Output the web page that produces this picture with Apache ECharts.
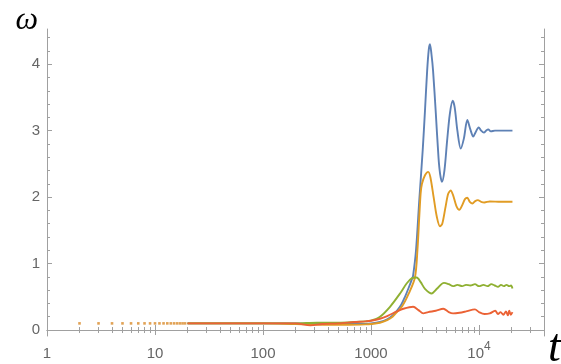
<!DOCTYPE html>
<html><head><meta charset="utf-8">
<script src="https://cdn.jsdelivr.net/npm/echarts@6/dist/echarts.min.js"></script>
<style>html,body{margin:0;padding:0;background:#fff}#c{width:561px;height:364px}</style>
</head><body><div id="c"></div><script>
// ---- data (t, omega) ----
const tDots = [2,3,4,5,6,7,8,9,10,11,12,13,14,15,16,17,18,19];
const vDots = [0.1,0.1,0.1,0.1,0.1,0.1,0.1,0.1,0.1,0.1,0.1,0.1,0.1,0.1,0.1,0.1,0.1,0.1];

const tBlue = [20,100,200,398,631,794,1000,1211,1413,1585,1738,1905,2065,2239,2399,2455,2612,2799,3013,3162,3311,3428,3516,3631,3758,3981,4217,4365,4539,4786,5070,5370,5702,5957,6310,6776,7244,7798,8318,8851,9333,9931,10471,11117,11614,12190,12882,14060,16000,20417];
const vBlue = [0.1,0.1,0.1,0.09,0.09,0.09,0.10,0.12,0.16,0.22,0.29,0.38,0.5,0.64,0.77,0.82,1.2,1.95,2.71,3.3,3.9,4.22,4.30,4.15,3.9,3.27,2.6,2.35,2.23,2.4,2.85,3.25,3.45,3.35,3.0,2.73,2.88,3.16,3.02,2.91,2.98,3.05,3.0,2.97,3.0,3.02,2.99,3.0,3.0,3.0];

const tOrange = [20,100,200,398,631,891,1000,1211,1413,1585,1738,1950,2239,2553,2692,2799,2884,2965,3162,3388,3548,3802,4074,4355,4571,4898,5188,5470,5754,6166,6577,6998,7413,7798,8222,8710,9226,9772,10471,11220,12589,15849,20417];
const vOrange = [0.1,0.1,0.09,0.08,0.08,0.085,0.09,0.11,0.15,0.2,0.27,0.36,0.55,0.79,1.2,1.7,2.06,2.2,2.33,2.38,2.3,2.0,1.7,1.56,1.6,1.85,2.05,2.10,2.03,1.87,1.81,1.88,1.97,1.99,1.93,1.905,1.94,1.955,1.93,1.92,1.935,1.93,1.93];

const tGreen = [20,100,200,316,501,708,891,1000,1211,1500,1858,2138,2399,2649,2884,3162,3648,4074,4742,5248,5754,6310,6998,7586,8318,9183,10000,11000,12000,13000,14000,15000,16000,17000,18000,19000,19800,20417];
const vGreen = [0.1,0.1,0.1,0.11,0.11,0.12,0.13,0.14,0.2,0.35,0.55,0.7,0.78,0.79,0.72,0.62,0.55,0.62,0.71,0.69,0.66,0.68,0.66,0.68,0.67,0.69,0.66,0.68,0.66,0.69,0.67,0.65,0.68,0.66,0.68,0.66,0.67,0.625];

const tRed = [20,100,200,275,355,501,708,891,1000,1211,1413,1738,1995,2455,2754,3048,3388,3981,4677,5248,5754,6607,7586,9183,10000,11220,12589,14125,15000,15849,16800,17783,18500,19055,19700,20417];
const vRed = [0.1,0.1,0.1,0.07,0.09,0.1,0.12,0.13,0.14,0.17,0.21,0.28,0.32,0.35,0.3,0.25,0.27,0.29,0.32,0.27,0.25,0.26,0.28,0.31,0.27,0.24,0.25,0.29,0.24,0.27,0.23,0.28,0.22,0.29,0.23,0.27];

// ---- ticks ----
const xMajor = [1,10,100,1000,10000];
const xMinor = [2,3,4,5,6,7,8,9,20,30,40,50,60,70,80,90,200,300,400,500,600,700,800,900,2000,3000,4000,5000,6000,7000,8000,9000,20000,30000];
const yMajor = [0,1,2,3,4];
const yMinor = [0.2,0.4,0.6,0.8,1.2,1.4,1.6,1.8,2.2,2.4,2.6,2.8,3.2,3.4,3.6,3.8,4.2,4.4];

const colors = ['#5E81B5','#E19C24','#8FB032','#EB6235'];
const frame = '#a0a0a0';
const labelColor = '#666';
const pair = (ts, vs) => ts.map((t, i) => [t, vs[i]]);

const X_MIN = 1, X_MAX = 40000, Y_MIN = -0.09, Y_MAX = 4.53;

function xAx(pos, vals, len, opts) {
  return Object.assign({
    type: 'log', gridIndex: 0, position: pos, min: X_MIN, max: X_MAX,
    axisLine: { show: true, lineStyle: { color: frame, width: 1 } },
    axisTick: { show: true, inside: true, length: len, customValues: vals, lineStyle: { color: frame } },
    axisLabel: { show: false },
    splitLine: { show: false }, minorTick: { show: false }, minorSplitLine: { show: false }
  }, opts || {});
}
function yAx(pos, vals, len, opts) {
  return Object.assign({
    type: 'value', gridIndex: 0, position: pos, min: Y_MIN, max: Y_MAX,
    axisLine: { show: true, lineStyle: { color: frame, width: 1 } },
    axisTick: { show: true, inside: true, length: len, customValues: vals, lineStyle: { color: frame } },
    axisLabel: { show: false },
    splitLine: { show: false }
  }, opts || {});
}

const chart = echarts.init(document.getElementById('c'), null, { renderer: 'canvas' });
chart.setOption({
  animation: false,
  backgroundColor: '#fff',
  grid: { left: 47, right: 17, top: 29, bottom: 28, containLabel: false },
  graphic: [
    { type: 'text', left: 548, top: 326, silent: true,
      style: { text: 't', font: 'italic 46px "Liberation Serif"', fill: '#000' } }
  ],
  xAxis: [
    xAx('bottom', xMajor, 5, {
      axisLabel: {
        show: true, customValues: xMajor, margin: 5, color: labelColor,
        fontFamily: 'Liberation Sans', fontSize: 15,
        formatter: v => v >= 10000 ? '{b|10}{s|4}' : '{b|' + v + '}',
        rich: {
          b: { fontFamily: 'Liberation Sans', fontSize: 15, color: labelColor, verticalAlign: 'bottom', lineHeight: 20 },
          s: { fontFamily: 'Liberation Sans', fontSize: 12, color: labelColor, verticalAlign: 'top', lineHeight: 20 }
        }
      }
    }),
    xAx('bottom', xMinor, 3, { axisLine: { show: false } }),
    xAx('top', xMajor, 5),
    xAx('top', xMinor, 3, { axisLine: { show: false } })
  ],
  yAxis: [
    yAx('left', yMajor, 5, {
      axisLabel: { show: true, customValues: yMajor, margin: 7, color: labelColor, fontFamily: 'Liberation Sans', fontSize: 15 },
      name: 'ω', nameLocation: 'end', nameGap: 8,
      nameTextStyle: { fontFamily: 'Liberation Serif', fontStyle: 'italic', fontSize: 32, color: '#000',
        align: 'right', verticalAlign: 'middle', padding: [0, 9, 0, 0] }
    }),
    yAx('left', yMinor, 3, { axisLine: { show: false } }),
    yAx('right', yMajor, 5),
    yAx('right', yMinor, 3, { axisLine: { show: false } })
  ],
  series: [
    { name: 'blue', type: 'line', data: pair(tBlue, vBlue), smooth: 0.3, showSymbol: false, lineStyle: { color: colors[0], width: 1.9 }, itemStyle: { color: colors[0] }, clip: true },
    { name: 'orange', type: 'line', data: pair(tOrange, vOrange), smooth: 0.3, showSymbol: false, lineStyle: { color: colors[1], width: 1.9 }, itemStyle: { color: colors[1] }, clip: true },
    { name: 'green', type: 'line', data: pair(tGreen, vGreen), smooth: 0.3, showSymbol: false, lineStyle: { color: colors[2], width: 1.9 }, itemStyle: { color: colors[2] }, clip: true },
    { name: 'red', type: 'line', data: pair(tRed, vRed), smooth: 0.3, showSymbol: false, lineStyle: { color: colors[3], width: 1.9 }, itemStyle: { color: colors[3] }, clip: true },
    { name: 'early', type: 'scatter', data: pair(tDots, vDots), symbol: 'rect', symbolSize: 2.6, itemStyle: { color: '#D98B2B' } }
  ]
});
</script></body></html>
